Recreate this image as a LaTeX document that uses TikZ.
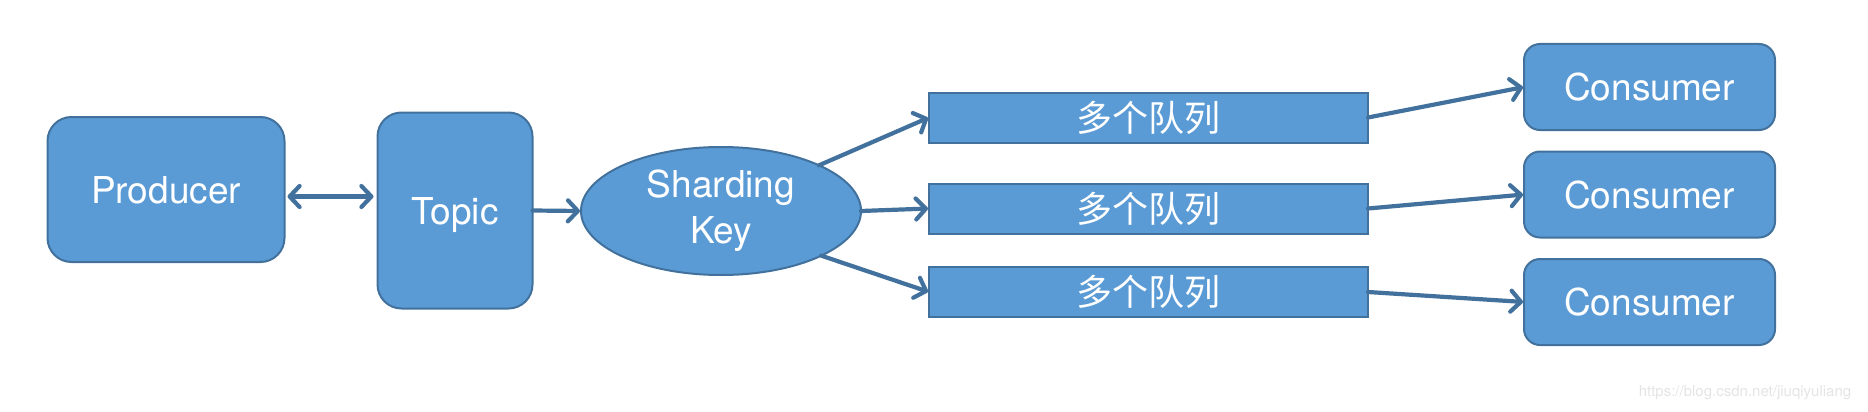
\documentclass[tikz,border=0pt]{standalone}
\usepackage{fontspec}
\setmainfont{TeX Gyre Heros}
\newfontfamily\cjk{Noto Sans CJK SC}
\usetikzlibrary{arrows.meta,shapes.geometric}
\definecolor{boxfill}{HTML}{5B9BD5}
\definecolor{boxline}{HTML}{41719C}
\definecolor{arrowc}{HTML}{41719C}
\definecolor{wm}{HTML}{E4E4E4}
\begin{document}
\begin{tikzpicture}[x=1pt,y=-1pt,
  base/.style={draw=boxline, fill=boxfill, line width=2pt, inner sep=0pt, outer sep=0pt,
    text=white, font=\fontsize{37}{46}\selectfont},
  rbox/.style={base, rectangle},
  ovalbox/.style={base, ellipse, align=center},
  qbox/.style={base, rectangle, minimum width=439pt, minimum height=50pt, font=\cjk\fontsize{36}{40}\selectfont},
  cbox/.style={base, rectangle, rounded corners=16pt, minimum width=251pt, minimum height=86pt},
  tip/.tip={Straight Barb[length=10pt,width=21pt,line cap=round,line join=round]},
  conn/.style={draw=arrowc, line width=4.2pt, line cap=round, -tip},
  bconn/.style={draw=arrowc, line width=4.2pt, line cap=round, tip-tip}
]
\useasboundingbox (0,0) rectangle (1868,412);

\node[rbox, rounded corners=24pt, minimum width=237pt, minimum height=145pt, text height=27pt, text depth=0pt] (prod) at (166,189.5) {Producer};
\node[rbox, rounded corners=24pt, minimum width=155pt, minimum height=196pt, text height=27pt, text depth=0pt] (topic) at (455,210.5) {Topic};
\node[ovalbox, minimum width=280pt, minimum height=128pt] (sk) at (721,211) {Sharding\\Key};

\node[qbox] (q1) at (1148.5,117.5) {多个队列};
\node[qbox] (q2) at (1148.5,208.5) {多个队列};
\node[qbox] (q3) at (1148.5,292) {多个队列};

\node[cbox, text height=27pt, text depth=0pt] (c1) at (1649.5,87) {Consumer};
\node[cbox, text height=27pt, text depth=0pt] (c2) at (1649.5,194.5) {Consumer};
\node[cbox, text height=27pt, text depth=0pt] (c3) at (1649.5,302) {Consumer};

\coordinate (pa) at ([yshift=-7pt]prod.east);
\draw[bconn, shorten <=3pt, shorten >=4pt] (pa) -- (pa -| topic.west);
\draw[conn, shorten >=1pt] (topic.east) -- (sk.west);

\draw[conn, shorten >=1pt] (sk.25) -- (q1.west);
\draw[conn, shorten >=1pt] (sk.east) -- (q2.west);
\draw[conn, shorten >=1pt] (sk.-24) -- (q3.west);

\draw[conn, shorten >=1pt] (q1.east) -- (c1.west);
\draw[conn, shorten >=1pt] (q2.east) -- (c2.west);
\draw[conn, shorten >=1pt] (q3.east) -- (c3.west);

\node[text=wm, font=\fontsize{15}{18}\selectfont, inner sep=0pt] (wmark) at (1745,392.5) {https://blog.csdn.net/jiuqiyuliang};
\end{tikzpicture}
\end{document}
